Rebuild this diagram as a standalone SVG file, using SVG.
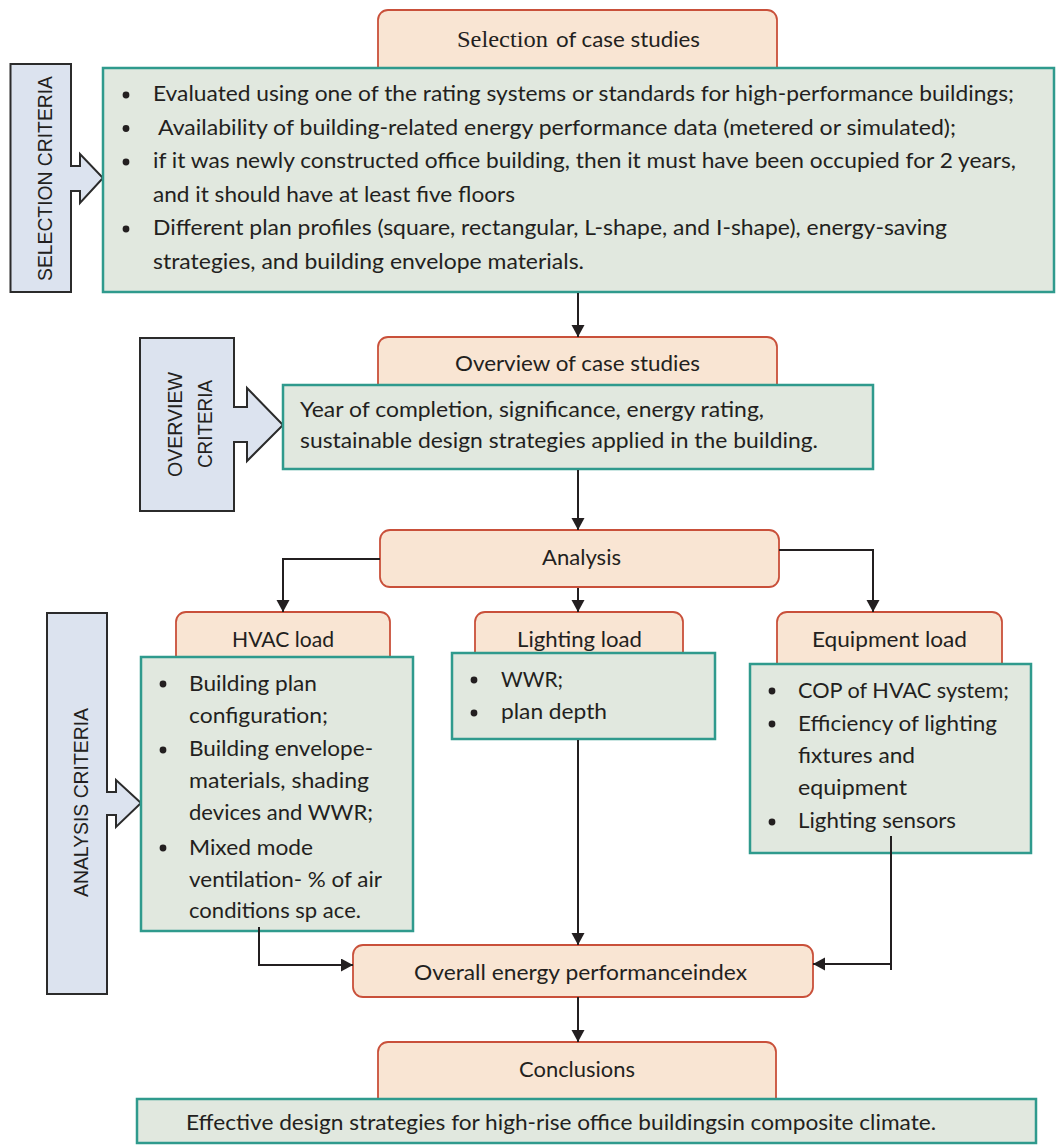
<svg xmlns="http://www.w3.org/2000/svg" width="1056" height="1145" viewBox="0 0 1056 1145">
<style>
.or{fill:#F9E5D3;stroke:#C9503A;stroke-width:1.8}
.gr{fill:#E1E8DF;stroke:#2F9A8D;stroke-width:2.5}
.cr{fill:#DCE3EF;stroke:#2B2B2B;stroke-width:2}
.t{font-family:Lato,"Liberation Sans",sans-serif;font-size:21.5px;fill:#231F20}
.c{font-family:"Liberation Sans",Arial,sans-serif;font-size:19.5px;fill:#231F20;text-anchor:middle}
.b{fill:#231F20}
.cn{fill:none;stroke:#231F20;stroke-width:2}
</style>
<defs>
<marker id="ah" markerUnits="userSpaceOnUse" markerWidth="14" markerHeight="14" refX="12" refY="6.5" orient="auto">
<path d="M0,0 L12,6.5 L0,13 Z" fill="#231F20"/>
</marker>
</defs>

<g id="selection-criteria">
<path class="cr" d="M10.5,64 H71 V166 H80 V154 L103,178 L80,203 V191 H71 V292 H10.5 Z"/>
<text class="c" transform="translate(52,178.5) rotate(-90)" textLength="205" lengthAdjust="spacingAndGlyphs">SELECTION CRITERIA</text>
</g>

<g id="selection">
<rect class="or" x="378" y="10" width="399" height="72" rx="10"/>
<text y="47" fill="#231F20"><tspan x="457" font-family="'Liberation Serif',serif" font-size="24" textLength="91" lengthAdjust="spacingAndGlyphs">Selection</tspan><tspan x="556" font-family="Lato,'Liberation Sans',sans-serif" font-size="21.5" textLength="144" lengthAdjust="spacingAndGlyphs">of case studies</tspan></text>
</g>

<g id="selection-details">
<rect class="gr" x="103" y="68" width="951" height="224"/>
<circle class="b" cx="126" cy="95" r="3.4"/>
<circle class="b" cx="126" cy="128.5" r="3.4"/>
<circle class="b" cx="126" cy="162" r="3.4"/>
<circle class="b" cx="126" cy="229" r="3.4"/>
<text class="t" x="153" y="101" textLength="861" lengthAdjust="spacingAndGlyphs">Evaluated using one of the rating systems or standards for high-performance buildings;</text>
<text class="t" x="158" y="134.5" textLength="798" lengthAdjust="spacingAndGlyphs">Availability of building-related energy performance data (metered or simulated);</text>
<text class="t" x="153" y="168" textLength="863" lengthAdjust="spacingAndGlyphs">if it was newly constructed office building, then it must have been occupied for 2 years,</text>
<text class="t" x="153" y="201.5" textLength="362" lengthAdjust="spacingAndGlyphs">and it should have at least five floors</text>
<text class="t" x="153" y="235" textLength="794" lengthAdjust="spacingAndGlyphs">Different plan profiles (square, rectangular, L-shape, and I-shape), energy-saving</text>
<text class="t" x="153" y="268.5" textLength="431" lengthAdjust="spacingAndGlyphs">strategies, and building envelope materials.</text>
</g>

<g id="overview-criteria">
<path class="cr" d="M140,338 H234 V407 H247 V388 L283,425 L247,461 V442 H234 V511 H140 Z"/>
<text class="c" transform="translate(182,424.5) rotate(-90)" textLength="105" lengthAdjust="spacingAndGlyphs">OVERVIEW</text>
<text class="c" transform="translate(212,424) rotate(-90)" textLength="88" lengthAdjust="spacingAndGlyphs">CRITERIA</text>
</g>

<g id="overview">
<rect class="or" x="378" y="337" width="399" height="62" rx="10"/>
<text class="t" x="455" y="371" textLength="245" lengthAdjust="spacingAndGlyphs">Overview of case studies</text>
</g>

<g id="overview-details">
<rect class="gr" x="283" y="385" width="590" height="84"/>
<text class="t" x="300" y="417" textLength="464" lengthAdjust="spacingAndGlyphs">Year of completion, significance, energy rating,</text>
<text class="t" x="300" y="448" textLength="518" lengthAdjust="spacingAndGlyphs">sustainable design strategies applied in the building.</text>
</g>

<g id="analysis">
<rect class="or" x="380" y="530" width="399" height="57" rx="10"/>
<text class="t" x="542" y="565" textLength="79" lengthAdjust="spacingAndGlyphs">Analysis</text>
</g>

<g id="analysis-criteria">
<path class="cr" d="M47,613 H107 V792 H116 V780 L141,803 L116,827 V815 H107 V994 H47 Z"/>
<text class="c" transform="translate(88,802.5) rotate(-90)" textLength="189" lengthAdjust="spacingAndGlyphs">ANALYSIS CRITERIA</text>
</g>

<g id="hvac">
<rect class="or" x="176" y="612" width="214" height="60" rx="10"/>
<text class="t" x="232" y="647" textLength="102" lengthAdjust="spacingAndGlyphs">HVAC load</text>
</g>

<g id="hvac-details">
<rect class="gr" x="141" y="657" width="272" height="274"/>
<circle class="b" cx="163" cy="684" r="3.4"/>
<circle class="b" cx="163" cy="750" r="3.4"/>
<circle class="b" cx="163" cy="848" r="3.4"/>
<text class="t" x="189" y="691" textLength="128" lengthAdjust="spacingAndGlyphs">Building plan</text>
<text class="t" x="189" y="723" textLength="139" lengthAdjust="spacingAndGlyphs">configuration;</text>
<text class="t" x="189" y="756" textLength="184" lengthAdjust="spacingAndGlyphs">Building envelope-</text>
<text class="t" x="189" y="788" textLength="180" lengthAdjust="spacingAndGlyphs">materials, shading</text>
<text class="t" x="189" y="820" textLength="184" lengthAdjust="spacingAndGlyphs">devices and WWR;</text>
<text class="t" x="189" y="855" textLength="124" lengthAdjust="spacingAndGlyphs">Mixed mode</text>
<text class="t" x="189" y="887" textLength="193" lengthAdjust="spacingAndGlyphs">ventilation- % of air</text>
<text class="t" x="189" y="918" textLength="172" lengthAdjust="spacingAndGlyphs">conditions sp ace.</text>
</g>

<g id="lighting">
<rect class="or" x="475" y="612" width="208" height="55" rx="10"/>
<text class="t" x="517" y="647" textLength="125" lengthAdjust="spacingAndGlyphs">Lighting load</text>
</g>

<g id="lighting-details">
<rect class="gr" x="452" y="653" width="263" height="86"/>
<circle class="b" cx="474" cy="680" r="3.4"/>
<circle class="b" cx="474" cy="713" r="3.4"/>
<text class="t" x="501" y="687" textLength="62" lengthAdjust="spacingAndGlyphs">WWR;</text>
<text class="t" x="501" y="719" textLength="106" lengthAdjust="spacingAndGlyphs">plan depth</text>
</g>

<g id="equipment">
<rect class="or" x="777" y="612" width="225" height="62" rx="10"/>
<text class="t" x="812" y="647" textLength="155" lengthAdjust="spacingAndGlyphs">Equipment load</text>
</g>

<g id="equipment-details">
<rect class="gr" x="750" y="664" width="281" height="189"/>
<circle class="b" cx="772" cy="691" r="3.4"/>
<circle class="b" cx="772" cy="724" r="3.4"/>
<circle class="b" cx="772" cy="822" r="3.4"/>
<text class="t" x="798" y="698" textLength="211" lengthAdjust="spacingAndGlyphs">COP of HVAC system;</text>
<text class="t" x="798" y="731" textLength="199" lengthAdjust="spacingAndGlyphs">Efficiency of lighting</text>
<text class="t" x="798" y="763" textLength="117" lengthAdjust="spacingAndGlyphs">fixtures and</text>
<text class="t" x="798" y="795" textLength="109" lengthAdjust="spacingAndGlyphs">equipment</text>
<text class="t" x="798" y="828" textLength="158" lengthAdjust="spacingAndGlyphs">Lighting sensors</text>
</g>

<g id="overall">
<rect class="or" x="353" y="945" width="460" height="52" rx="10"/>
<text class="t" x="414" y="980" textLength="333" lengthAdjust="spacingAndGlyphs">Overall energy performanceindex</text>
</g>

<g id="conclusions">
<rect class="or" x="378" y="1042" width="398" height="68" rx="10"/>
<text class="t" x="519" y="1077" textLength="116" lengthAdjust="spacingAndGlyphs">Conclusions</text>
</g>

<g id="conclusions-details">
<rect class="gr" x="137" y="1099" width="899" height="44"/>
<text class="t" x="186" y="1130" textLength="750" lengthAdjust="spacingAndGlyphs">Effective design strategies for high-rise office buildingsin composite climate.</text>
</g>

<g id="connectors">
<path class="cn" d="M578,293 V337" marker-end="url(#ah)"/>
<path class="cn" d="M578,470 V530" marker-end="url(#ah)"/>
<path class="cn" d="M380,559 H283 V612" marker-end="url(#ah)"/>
<path class="cn" d="M578,588 V612" marker-end="url(#ah)"/>
<path class="cn" d="M779,550 H873 V612" marker-end="url(#ah)"/>
<path class="cn" d="M259,927 V965 H353" marker-end="url(#ah)"/>
<path class="cn" d="M578,740 V945" marker-end="url(#ah)"/>
<path class="cn" d="M891,836 V970"/>
<path class="cn" d="M891,964 H813" marker-end="url(#ah)"/>
<path class="cn" d="M578,997 V1042" marker-end="url(#ah)"/>
</g>
</svg>
